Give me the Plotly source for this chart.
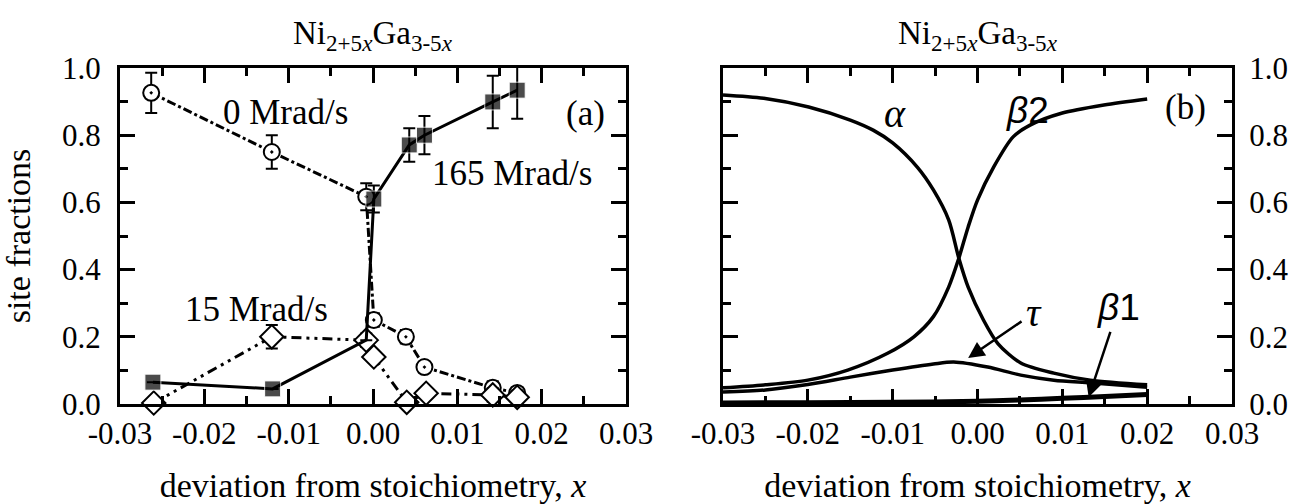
import plotly.graph_objects as go

# ---------------- data: panel (a) ----------------
x_165 = [-0.0261, -0.0119, -0.0008, 0.0001, 0.0043, 0.0061, 0.0142, 0.0171]
y_165 = [0.065, 0.045, 0.19, 0.61, 0.771, 0.80, 0.899, 0.934]
e_165 = [0.0, 0.0, 0.0, 0.04, 0.05, 0.057, 0.078, 0.085]

x_0 = [-0.0263, -0.0120, -0.0008, 0.0001, 0.0039, 0.0061, 0.0142, 0.0171]
y_0 = [0.926, 0.75, 0.617, 0.25, 0.20, 0.11, 0.048, 0.033]
e_0 = [0.06, 0.05, 0.04, 0.02, 0.02, 0.01, 0.02, 0.015]

x_15 = [-0.0260, -0.0120, -0.0008, 0.0001, 0.0040, 0.0063, 0.0142, 0.0171]
y_15 = [0.003, 0.20, 0.19, 0.14, 0.005, 0.032, 0.027, 0.02]
e_15 = [0.015, 0.035, 0.02, 0.01, 0.015, 0.01, 0.02, 0.02]

# ---------------- data: panel (b) ----------------
x_alpha = [-0.030, -0.0252, -0.0199, -0.015, -0.0123, -0.010, -0.0071, -0.0052, -0.0034,
           -0.0022, -0.0011, 0.0007, 0.0024, 0.0051, 0.009, 0.0133, 0.020]
y_alpha = [0.92, 0.91, 0.884, 0.845, 0.815, 0.777, 0.705, 0.637, 0.548,
           0.434, 0.348, 0.25, 0.18, 0.122, 0.092, 0.071, 0.057]

x_beta2 = [-0.030, -0.025, -0.020, -0.0153, -0.0106, -0.0075, -0.0052, -0.0034, -0.0022,
           -0.0011, 0.0, 0.0019, 0.0042, 0.0062, 0.010, 0.0149, 0.020]
y_beta2 = [0.048, 0.057, 0.071, 0.101, 0.151, 0.20, 0.26, 0.348, 0.434,
           0.527, 0.607, 0.705, 0.795, 0.83, 0.866, 0.89, 0.908]

x_tau = [-0.030, -0.025, -0.020, -0.015, -0.010, -0.0052, -0.0028, 0.0012, 0.0051, 0.009, 0.0133, 0.020]
y_tau = [0.036, 0.042, 0.058, 0.08, 0.101, 0.119, 0.125, 0.11, 0.086, 0.071, 0.063, 0.05]

x_beta1 = [-0.030, -0.020, -0.010, 0.0, 0.005, 0.010, 0.015, 0.020]
y_beta1 = [0.003, 0.004, 0.005, 0.008, 0.012, 0.017, 0.022, 0.028]

# ---------------- ticks ----------------
x_tickvals = [-0.03, -0.02, -0.01, 0.0, 0.01, 0.02, 0.03]
x_ticktext = ["-0.03", "-0.02", "-0.01", "0.00", "0.01", "0.02", "0.03"]
x_minorvals = [-0.025, -0.015, -0.005, 0.005, 0.015, 0.025]
y_tickvals = [0.0, 0.2, 0.4, 0.6, 0.8, 1.0]
y_ticktext = ["0.0", "0.2", "0.4", "0.6", "0.8", "1.0"]
y_minorvals = [0.1, 0.3, 0.5, 0.7, 0.9]

SERIF = "Liberation Serif"
SANS = "Liberation Sans"
K = "#000000"

fig = go.Figure()

# ---- panel (a) traces ----
fig.add_trace(go.Scatter(
    x=x_0, y=y_0, mode="lines+markers", xaxis="x", yaxis="y",
    line=dict(color=K, width=3, dash="dashdot"),
    marker=dict(symbol="circle-dot", size=16, color="white", line=dict(color=K, width=2)),
    error_y=dict(type="data", array=e_0, color=K, thickness=2, width=6),
    cliponaxis=False, showlegend=False))

fig.add_trace(go.Scatter(
    x=x_15, y=y_15, mode="lines+markers", xaxis="x", yaxis="y",
    line=dict(color=K, width=3, dash="10px,5px,3px,5px,3px,5px"),
    marker=dict(symbol="diamond", size=18, color="white", line=dict(color=K, width=2)),
    error_y=dict(type="data", array=e_15, color=K, thickness=2, width=6),
    cliponaxis=False, showlegend=False))

fig.add_trace(go.Scatter(
    x=x_165, y=y_165, mode="lines+markers", xaxis="x", yaxis="y",
    line=dict(color=K, width=3),
    marker=dict(symbol="square", size=[16, 16, 0, 16, 16, 16, 16, 16], color=K),
    error_y=dict(type="data", array=e_165, color=K, thickness=2, width=6),
    cliponaxis=False, showlegend=False))

# ---- panel (b) traces ----
for xs, ys, w in [(x_alpha, y_alpha, 3.5), (x_beta2, y_beta2, 3.5),
                  (x_tau, y_tau, 3.5), (x_beta1, y_beta1, 5)]:
    fig.add_trace(go.Scatter(
        x=xs, y=ys, mode="lines", xaxis="x2", yaxis="y2",
        line=dict(color=K, width=w, shape="spline", smoothing=0.8),
        showlegend=False))

# plot area: left 120 .. right 1232 px, top 68 .. bottom 404 px
ML, MR, MT, MB = 120, 70, 68, 100
PW = 1302 - ML - MR
PH = 504 - MT - MB
xdom_a = [0.0, (626 - ML) / PW]
xdom_b = [(723 - ML) / PW, 1.0]


def xax(dom, anchor):
    return dict(domain=dom, anchor=anchor, range=[-0.03, 0.03],
                tickvals=x_tickvals, ticktext=x_ticktext,
                showline=True, linewidth=3, linecolor=K, mirror="ticks",
                ticks="inside", ticklen=15, tickwidth=3, tickcolor=K,
                tickfont=dict(family=SERIF, size=31, color=K),
                minor=dict(tickmode="array", tickvals=x_minorvals, ticks="inside",
                           ticklen=8, tickwidth=3, tickcolor=K),
                showgrid=False, zeroline=False,
                title=dict(text="deviation from stoichiometry, <i>x</i>",
                           font=dict(family=SERIF, size=34, color=K), standoff=26))


def yax(anchor, side, standoff):
    return dict(domain=[0, 1], anchor=anchor, side=side, range=[0, 1.0],
                tickvals=y_tickvals, ticktext=y_ticktext,
                showline=True, linewidth=3, linecolor=K, mirror="ticks",
                ticks="inside", ticklen=15, tickwidth=3, tickcolor=K,
                tickfont=dict(family=SERIF, size=31, color=K),
                minor=dict(tickmode="array", tickvals=y_minorvals, ticks="inside",
                           ticklen=8, tickwidth=3, tickcolor=K),
                showgrid=False, zeroline=False,
                ticklabelstandoff=standoff)


ya = yax("x", "left", 10)
ya["title"] = dict(text="site fractions", font=dict(family=SERIF, size=34, color=K), standoff=24)
yb = yax("x2", "right", 8)

fig.update_layout(
    template="none",
    width=1302, height=504,
    margin=dict(l=ML, r=MR, t=MT, b=MB, pad=0),
    paper_bgcolor="white", plot_bgcolor="white",
    xaxis=xax(xdom_a, "y"), yaxis=ya,
    xaxis2=xax(xdom_b, "y2"), yaxis2=yb,
)

title_text = "Ni<sub>2+5<i>x</i></sub>Ga<sub>3-5<i>x</i></sub>"
TITLE_Y = (504 - MB - 36) / PH   # paper coords are relative to the plot area
ann = []
for xr in ["x", "x2"]:
    ann.append(dict(text=title_text, xref=xr, x=0.0, yref="paper", y=TITLE_Y,
                    xanchor="center", yanchor="middle", showarrow=False,
                    font=dict(family=SERIF, size=33, color=K)))


def txt(t, x, y, xr, yr, size=35, fam=SERIF):
    return dict(text=t, x=x, y=y, xref=xr, yref=yr, showarrow=False,
                xanchor="center", yanchor="middle", font=dict(family=fam, size=size, color=K))


ann += [
    txt("0 Mrad/s", -0.0104, 0.869, "x", "y"),
    txt("165 Mrad/s", 0.0165, 0.687, "x", "y"),
    txt("15 Mrad/s", -0.0138, 0.28, "x", "y"),
    txt("(a)", 0.0252, 0.866, "x", "y"),
    txt("<i>α</i>", -0.0097, 0.865, "x2", "y2", size=40),
    txt("<i>β</i>2", 0.0059, 0.875, "x2", "y2", size=37, fam=SANS),
    txt("(b)", 0.0245, 0.881, "x2", "y2"),
]
ann.append(dict(text="<i>τ</i>", x=-0.0011, y=0.137, xref="x2", yref="y2",
                ax=0.0067, ay=0.272, axref="x2", ayref="y2",
                font=dict(family=SERIF, size=40, color=K),
                showarrow=True, arrowhead=2, arrowsize=1.3, arrowwidth=2.5, arrowcolor=K,
                standoff=0, startstandoff=4))
ann.append(dict(text="<i>β</i>1", x=0.0131, y=0.02, xref="x2", yref="y2",
                ax=0.0166, ay=0.286, axref="x2", ayref="y2",
                font=dict(family=SANS, size=37, color=K),
                showarrow=True, arrowhead=2, arrowsize=1.3, arrowwidth=2.5, arrowcolor=K,
                standoff=0, startstandoff=2))

fig.update_layout(annotations=ann)
fig.write_html("out.html")
